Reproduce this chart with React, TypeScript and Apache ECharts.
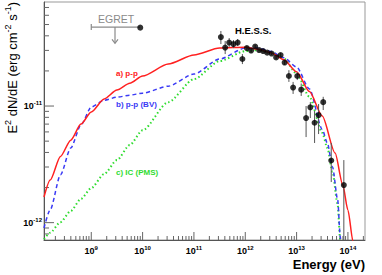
import React, { useEffect, useRef } from 'react';
import * as echarts from 'echarts';

const FONT = '"Liberation Sans", Arial, Helvetica, sans-serif';

// Axis ranges
const xMin = 1.2e8;
const xMax = 2.15e14;
const yMin = 7.1e-13;
const yMax = 7.8e-11;

// Tick positions
const xMajorTicks = [1e9, 1e10, 1e11, 1e12, 1e13, 1e14];
const yMajorTicks = [1e-12, 1e-11];
const minorMultipliers = [2, 3, 4, 5, 6, 7, 8, 9];
const xDecades = [1e8, 1e9, 1e10, 1e11, 1e12, 1e13, 1e14];
const yDecades = [1e-13, 1e-12, 1e-11];

// a) p-p (red, solid)
const energyA = [1.2e8, 1.585e8, 2.512e8, 3.981e8, 6.31e8, 1e9, 1.778e9, 3.162e9, 5.623e9, 1e10, 3.162e10, 1e11, 3.162e11, 1e12, 1.778e12, 3.162e12, 5.623e12, 1e13, 1.778e13, 3.162e13, 5.623e13, 7.943e13, 1e14, 1.259e14, 1.585e14];
const fluxA = [1.66e-12, 2.32e-12, 3.7e-12, 5.1e-12, 7.0e-12, 8.9e-12, 1.15e-11, 1.37e-11, 1.57e-11, 1.81e-11, 2.29e-11, 2.74e-11, 3.14e-11, 3.2e-11, 3.07e-11, 2.87e-11, 2.5e-11, 1.97e-11, 1.33e-11, 8.2e-12, 3.95e-12, 2.1e-12, 1.28e-12, 6.85e-13, 3.6e-13];

// b) p-p (BV) (blue, dashed) and c) IC (PMS) (green, dotted)
const energyBC = [1.2e8, 1.585e8, 2.512e8, 3.981e8, 6.31e8, 1e9, 1.778e9, 3.162e9, 5.623e9, 1e10, 3.162e10, 1e11, 3.162e11, 1e12, 1.778e12, 3.162e12, 5.623e12, 1e13, 1.778e13, 3.162e13, 3.981e13, 5.012e13, 6.31e13, 7.079e13, 7.943e13];
const fluxB = [9.0e-13, 1.29e-12, 2.57e-12, 4.36e-12, 6.9e-12, 9.8e-12, 1.12e-11, 1.19e-11, 1.24e-11, 1.29e-11, 1.48e-11, 1.88e-11, 2.53e-11, 3.14e-11, 3.14e-11, 2.94e-11, 2.6e-11, 2.16e-11, 1.4e-11, 6.3e-12, 4.8e-12, 3.0e-12, 1.57e-12, 7.6e-13, 3.9e-13];
const fluxC = [7.2e-13, 8.2e-13, 1.01e-12, 1.26e-12, 1.6e-12, 1.98e-12, 2.61e-12, 3.44e-12, 4.64e-12, 6.2e-12, 1.08e-11, 1.7e-11, 2.43e-11, 2.96e-11, 3.02e-11, 2.9e-11, 2.56e-11, 1.9e-11, 1.2e-11, 5.9e-12, 4.37e-12, 2.72e-12, 1.42e-12, 7.1e-13, 3.9e-13];

// H.E.S.S. points
const hessE = [3.35e11, 4.06e11, 4.86e11, 5.89e11, 7.11e11, 8.79e11, 1.074e12, 1.30e12, 1.56e12, 1.86e12, 2.23e12, 2.67e12, 3.26e12, 3.99e12, 4.88e12, 5.84e12, 7.08e12, 8.55e12, 1.03e13, 1.23e13, 1.53e13, 1.85e13, 2.24e13, 2.68e13, 3.30e13, 4.73e13, 8.32e13];
const hessFlux = [3.90e-11, 3.17e-11, 3.50e-11, 3.40e-11, 3.50e-11, 2.53e-11, 3.14e-11, 2.99e-11, 3.24e-11, 3.02e-11, 2.96e-11, 2.87e-11, 2.82e-11, 2.61e-11, 2.74e-11, 2.36e-11, 1.81e-11, 1.44e-11, 1.81e-11, 1.38e-11, 7.89e-12, 9.75e-12, 7.19e-12, 8.37e-12, 1.08e-11, 3.41e-12, 2.10e-12];
const hessHi = [4.40e-11, 3.61e-11, 3.83e-11, 3.68e-11, 3.75e-11, 2.79e-11, 3.27e-11, 3.11e-11, 3.34e-11, 3.11e-11, 3.05e-11, 2.96e-11, 2.90e-11, 2.70e-11, 2.85e-11, 2.48e-11, 2.03e-11, 1.61e-11, 1.95e-11, 1.56e-11, 1.0e-11, 1.08e-11, 9.06e-12, 1.04e-11, 1.20e-11, 4.82e-12, 3.44e-12];
const hessLo = [3.40e-11, 2.79e-11, 3.21e-11, 3.14e-11, 3.27e-11, 2.29e-11, 3.02e-11, 2.87e-11, 3.14e-11, 2.93e-11, 2.87e-11, 2.79e-11, 2.74e-11, 2.53e-11, 2.63e-11, 2.25e-11, 1.61e-11, 1.27e-11, 1.67e-11, 1.22e-11, 5.42e-12, 7.89e-12, 4.82e-12, 5.75e-12, 9.24e-12, 2.23e-12, 6.7e-13];

// EGRET upper limit
const egretRange = [1.0e9, 9.0e9];
const egretFlux = 4.75e-11;
const egretArrowE = 2.9e9;
const egretArrowTip = 3.45e-11;
const egretPoint = [9.0e9, 4.7e-11];

const labelRich = {
  b: { fontSize: 9, fontWeight: 'bold', fontFamily: FONT, color: '#000' },
  s: { fontSize: 6, fontWeight: 'bold', fontFamily: FONT, color: '#000', padding: [0, 0, 6, 0] },
};

function powerLabel(v: number) {
  const lg = Math.log10(v);
  const e = Math.round(lg);
  if (Math.abs(lg - e) > 0.01) return '';
  return `{b|10}{s|${e}}`;
}

export default function App() {
  const ref = useRef<HTMLDivElement>(null);
  useEffect(() => {
    document.body.style.margin = '0';
    if (!ref.current) return;
    const chart = echarts.init(ref.current, undefined, { renderer: 'svg' });

    const xMinor: number[] = [];
    xDecades.forEach((d) => minorMultipliers.forEach((k) => { const v = k * d; if (v > xMin && v < xMax) xMinor.push(v); }));
    const yMinor: number[] = [];
    yDecades.forEach((d) => minorMultipliers.forEach((k) => { const v = k * d; if (v > yMin && v < yMax) yMinor.push(v); }));

    const tickColor = '#666';

    chart.setOption({
      animation: false,
      backgroundColor: '#fff',
      grid: { left: 44, right: 17, top: 2, bottom: 35, show: true, borderColor: '#999', borderWidth: 1, backgroundColor: 'transparent' },
      xAxis: {
        type: 'log', logBase: 10, min: xMin, max: xMax,
        axisLine: { show: true, lineStyle: { color: '#555', width: 1 } },
        axisTick: { show: false },
        splitLine: { show: false },
        axisLabel: { margin: 5, formatter: (v: number) => powerLabel(v), rich: labelRich, showMinLabel: false, showMaxLabel: false },
      },
      yAxis: {
        type: 'log', logBase: 10, min: yMin, max: yMax,
        axisLine: { show: true, lineStyle: { color: '#555', width: 1 } },
        axisTick: { show: false },
        splitLine: { show: false },
        axisLabel: { margin: 2, formatter: (v: number) => powerLabel(v), rich: labelRich, showMinLabel: false, showMaxLabel: false },
      },
      series: [
        {
          type: 'custom', name: 'ticks', silent: true, z: 1,
          data: [[1e10, 1e-11]],
          renderItem: (_p: any, api: any) => {
            const children: any[] = [];
            const add = (x1: number, y1: number, x2: number, y2: number) =>
              children.push({ type: 'line', shape: { x1, y1, x2, y2 }, style: { stroke: tickColor, lineWidth: 1 } });
            xMajorTicks.forEach((v) => { const p = api.coord([v, yMin]); add(p[0], p[1], p[0], p[1] - 8); });
            xMinor.forEach((v) => { const p = api.coord([v, yMin]); add(p[0], p[1], p[0], p[1] - 4); });
            yMajorTicks.forEach((v) => { const p = api.coord([xMin, v]); add(p[0], p[1], p[0] + 10, p[1]); });
            yMinor.forEach((v) => { const p = api.coord([xMin, v]); add(p[0], p[1], p[0] + 5, p[1]); });
            return { type: 'group', children };
          },
        },
        {
          type: 'line', name: 'c) IC (PMS)', data: energyBC.map((e, i) => [e, fluxC[i]]),
          showSymbol: false, smooth: 0.25, smoothMonotone: 'x', clip: true, z: 2,
          lineStyle: { color: '#2fdc2f', width: 2, type: [1.5, 2.5] },
        },
        {
          type: 'line', name: 'b) p-p (BV)', data: energyBC.map((e, i) => [e, fluxB[i]]),
          showSymbol: false, smooth: 0.25, smoothMonotone: 'x', clip: true, z: 3,
          lineStyle: { color: '#3a3af5', width: 1.5, type: [4, 3] },
        },
        {
          type: 'line', name: 'a) p-p', data: energyA.map((e, i) => [e, fluxA[i]]),
          showSymbol: false, smooth: 0.25, smoothMonotone: 'x', clip: true, z: 4,
          lineStyle: { color: '#ff2020', width: 1.5 },
        },
        {
          type: 'custom', name: 'errors', clip: true, z: 5,
          encode: { x: 0, y: [1, 2, 3] },
          data: hessE.map((e, i) => [e, hessFlux[i], hessLo[i], hessHi[i]]),
          renderItem: (_p: any, api: any) => {
            const top = api.coord([api.value(0), api.value(3)]);
            const bot = api.coord([api.value(0), api.value(2)]);
            return { type: 'line', shape: { x1: top[0], y1: top[1], x2: bot[0], y2: bot[1] }, style: { stroke: '#555', lineWidth: 1 } };
          },
        },
        {
          type: 'scatter', name: 'H.E.S.S.', z: 6,
          data: hessE.map((e, i) => [e, hessFlux[i]]),
          symbol: 'circle', symbolSize: 6, itemStyle: { color: '#000' },
        },
        {
          type: 'custom', name: 'EGRET', z: 5,
          encode: { x: [0, 1, 3], y: [2, 4] },
          data: [[egretRange[0], egretRange[1], egretFlux, egretArrowE, egretArrowTip]],
          renderItem: (_p: any, api: any) => {
            const a = api.coord([api.value(0), api.value(2)]);
            const b = api.coord([api.value(1), api.value(2)]);
            const c = api.coord([api.value(3), api.value(2)]);
            const d = api.coord([api.value(3), api.value(4)]);
            const st = { stroke: '#8a8a8a', lineWidth: 1.2, fill: 'none' };
            return {
              type: 'group',
              children: [
                { type: 'line', shape: { x1: a[0], y1: a[1], x2: b[0], y2: b[1] }, style: st },
                { type: 'line', shape: { x1: a[0], y1: a[1] - 3, x2: a[0], y2: a[1] + 3 }, style: st },
                { type: 'line', shape: { x1: c[0], y1: c[1], x2: d[0], y2: d[1] }, style: st },
                { type: 'polyline', shape: { points: [[d[0] - 3, d[1] - 4], [d[0], d[1]], [d[0] + 3, d[1] - 4]] }, style: st },
              ],
            };
          },
        },
        {
          type: 'scatter', name: 'EGRET point', z: 6,
          data: [egretPoint], symbol: 'circle', symbolSize: 6, itemStyle: { color: '#000' },
        },
      ],
      graphic: [
        {
          type: 'text', x: 12, y: 2, rotation: Math.PI / 2,
          style: {
            text: 'E{s|2} dN/dE (erg cm{s|-2} s{s|-1})',
            align: 'right', verticalAlign: 'middle',
            fontSize: 13, fontFamily: FONT, fill: '#000',
            rich: { s: { fontSize: 9, fontFamily: FONT, padding: [0, 0, 9, 0] } },
          },
        },
        {
          type: 'text', x: 365, y: 264,
          style: { text: 'Energy (eV)', align: 'right', verticalAlign: 'middle', fontSize: 13, fontWeight: 'bold', fontFamily: FONT, fill: '#000' },
        },
        {
          type: 'text', x: 235, y: 30,
          style: { text: 'H.E.S.S.', align: 'left', verticalAlign: 'middle', fontSize: 9.5, fontWeight: 'bold', fontFamily: FONT, fill: '#000' },
        },
        {
          type: 'text', x: 98, y: 19,
          style: { text: 'EGRET', align: 'left', verticalAlign: 'middle', fontSize: 10.5, fontFamily: FONT, fill: '#8a8a8a' },
        },
        {
          type: 'text', x: 116, y: 73.5,
          style: { text: 'a) p-p', align: 'left', verticalAlign: 'middle', fontSize: 8, fontWeight: 'bold', fontFamily: FONT, fill: '#ff2020' },
        },
        {
          type: 'text', x: 116, y: 104,
          style: { text: 'b) p-p (BV)', align: 'left', verticalAlign: 'middle', fontSize: 8, fontWeight: 'bold', fontFamily: FONT, fill: '#3a3af5' },
        },
        {
          type: 'text', x: 116, y: 172.5,
          style: { text: 'c) IC (PMS)', align: 'left', verticalAlign: 'middle', fontSize: 8, fontWeight: 'bold', fontFamily: FONT, fill: '#2fdc2f' },
        },
      ],
    });
    return () => chart.dispose();
  }, []);
  return <div ref={ref} style={{ width: 382, height: 275 }} />;
}
